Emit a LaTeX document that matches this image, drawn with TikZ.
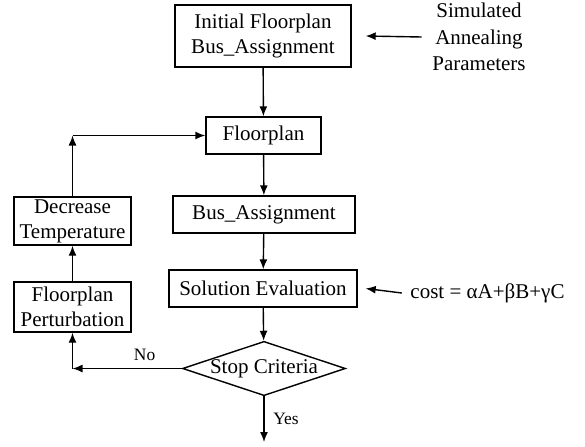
\documentclass[tikz,border=0pt]{standalone}
\usepackage{fontspec}
\setmainfont{Liberation Serif}
\usetikzlibrary{arrows.meta,shapes.geometric}

\tikzset{
  blk/.style={draw, line width=0.7pt, inner sep=0pt, align=center,
    font=\fontsize{10.5pt}{12.5pt}\selectfont},
  arr/.style={line width=0.7pt, -{Latex[length=5pt,width=4pt]}},
  lbl/.style={font=\fontsize{8.7pt}{10pt}\selectfont}
}

\begin{document}
\begin{tikzpicture}[x=0.5pt,y=-0.5pt]
    \useasboundingbox (0,0) rectangle (585,446);
    % Main column
    \node[blk, minimum width=88pt, minimum height=31pt] (init) at (263,36) {Initial Floorplan\\Bus\_Assignment};
    \node[blk, minimum width=57.5pt, minimum height=18.5pt] (fp) at (263.5,135.5) {Floorplan};
    \node[blk, minimum width=91pt, minimum height=18.5pt] (bus) at (264,214.5) {Bus\_Assignment};
    \node[blk, minimum width=94pt, minimum height=18.5pt] (eval) at (263,288.5) {Solution Evaluation};
    \node[blk, diamond, aspect=3] (stop) at (264,368.5) {Stop Criteria};
    \coordinate (done) at (264,442);
    % Loop back
    \node[blk, minimum width=58.5pt, minimum height=24pt] (decr) at (72.5,221) {Decrease\\Temperature};
    \node[blk, minimum width=58.5pt, minimum height=25pt] (pert) at (72.5,307) {Floorplan\\Perturbation};
    \coordinate (top) at (decr.north |- fp.west);
    \coordinate (bot) at (pert.south |- stop.west);
    % Side inputs
    \node[blk, draw=none, inner sep=3pt, font=\fontsize{10.5pt}{13.2pt}\selectfont] (sapar) at (479,37) {Simulated\\Annealing\\Parameters};
    \node[blk, draw=none, inner sep=3pt] (cost) at (487.5,293) {cost = αA+βB+γC};
    % Arrows
    \draw[arr] (init) -- (fp);
    \draw[arr] (fp) -- (bus);
    \draw[arr] (bus) -- (eval);
    \draw[arr] (eval) -- (stop);
    \draw[arr] (stop) -- (done) node[lbl, midway, right=1pt] {Yes};
    \draw[arr] (stop.west) -- (bot) node[lbl, pos=0.34, above] {No};
    \draw[arr] (bot) -- (pert);
    \draw[arr] (pert) -- (decr);
    \draw[arr] (decr) -- (top);
    \draw[arr] (top) -- (fp);
    \draw[arr] ([xshift=-2pt]sapar.west) -- ([xshift=7pt]init.east);
    \draw[arr] ([xshift=-1pt]cost.west) -- ([xshift=4pt]eval.east);
\end{tikzpicture}
\end{document}
